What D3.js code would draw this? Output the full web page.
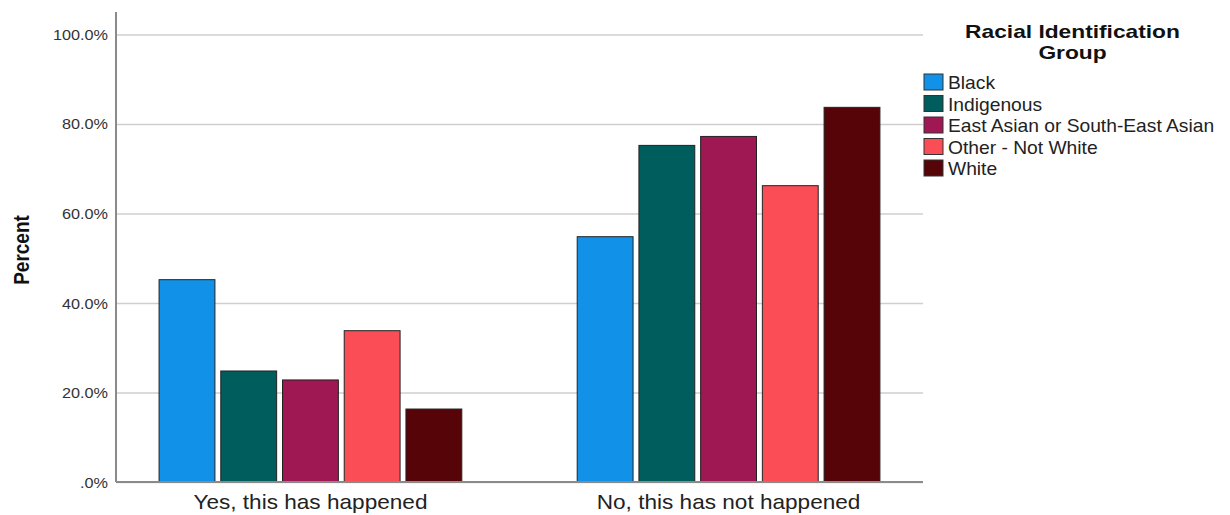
<!DOCTYPE html>
<html><head><meta charset="utf-8">
<script src="https://cdn.jsdelivr.net/npm/d3@7"></script>
<style>
html,body{margin:0;padding:0;background:#fff;}
text{font-family:"Liberation Sans",Arial,sans-serif;}
</style></head>
<body>
<svg id="chart" width="1230" height="515"></svg>
<script>
const categories = ["Yes, this has happened", "No, this has not happened"];
const groups = ["Black", "Indigenous", "East Asian or South-East Asian", "Other - Not White", "White"];
const colors = ["#1192e8", "#005d5d", "#9f1853", "#fa4d56", "#570408"];
const yesValues = [45.2, 24.8, 22.8, 33.8, 16.3];
const noValues  = [54.8, 75.2, 77.2, 66.2, 83.7];
const yTicks = [0, 20, 40, 60, 80, 100];
const legendTitle = ["Racial Identification", "Group"];
const yTitle = "Percent";

(function () {
const seriesByCat = [yesValues, noValues];
const svg = d3.select("#chart");
const mLeft = 116, mRight = 923, mTop = 12, mBottom = 482;

const y = d3.scaleLinear().domain([0, 105]).range([mBottom, mTop]);
const x0 = d3.scaleBand().domain(categories).range([mLeft, mRight]).paddingInner(0.276).paddingOuter(0.103);
const x1 = d3.scaleBand().domain(groups).range([0, x0.bandwidth()]).paddingInner(0.095).paddingOuter(0);
const color = d3.scaleOrdinal().domain(groups).range(colors);

function stretch(sel, sx) {
  sel.each(function () {
    const t = d3.select(this);
    const xx = +t.attr("x") || 0, yy = +t.attr("y") || 0;
    t.attr("x", 0).attr("y", 0).attr("transform", `translate(${xx},${yy}) scale(${sx},1)`);
  });
}

// gridlines + y axis
const yAxis = d3.axisLeft(y).tickValues(yTicks)
  .tickFormat(d => d === 0 ? ".0%" : d.toFixed(1) + "%")
  .tickSize(-(mRight - mLeft)).tickPadding(8);
const gy = svg.append("g").attr("transform", `translate(${mLeft},0)`).call(yAxis);
gy.select(".domain").remove();
gy.selectAll(".tick line").attr("stroke", "#cfcfcf").attr("stroke-width", 1.5);
gy.selectAll(".tick text").attr("fill", "#333").style("font-size", "14px")
  .attr("dy", null).attr("dominant-baseline", "central")
  .attr("x", 0).attr("transform", "translate(-8,0) scale(1.16,1)");

// bars
const gBars = svg.append("g");
categories.forEach((c, ci) => {
  gBars.selectAll(null).data(groups.map((g, gi) => ({ g, v: seriesByCat[ci][gi] })))
    .join("rect")
    .attr("x", d => x0(c) + x1(d.g))
    .attr("y", d => y(d.v))
    .attr("width", x1.bandwidth())
    .attr("height", d => y(0) - y(d.v))
    .attr("fill", d => color(d.g))
    .attr("stroke", "#222").attr("stroke-width", 1);
});

// axis lines
svg.append("line").attr("x1", mLeft).attr("x2", mLeft).attr("y1", mTop).attr("y2", mBottom)
  .attr("stroke", "#8a8a8a").attr("stroke-width", 2);
svg.append("line").attr("x1", mLeft).attr("x2", mRight).attr("y1", mBottom).attr("y2", mBottom)
  .attr("stroke", "#8a8a8a").attr("stroke-width", 2);

// x labels
const xl = svg.append("g").selectAll("text").data(categories).join("text")
  .attr("x", d => x0(d) + x0.bandwidth() / 2).attr("y", 509)
  .attr("text-anchor", "middle").attr("fill", "#222").style("font-size", "20px")
  .text(d => d);
stretch(xl, 1.13);

// y title
svg.append("text").attr("transform", "translate(29,250) scale(1.2,1) rotate(-90)")
  .attr("text-anchor", "middle").style("font-size", "19px").style("font-weight", "bold")
  .attr("fill", "#111").text(yTitle);

// legend
const lt = svg.append("g").selectAll("text").data(legendTitle).join("text")
  .attr("x", 1072.5).attr("y", (d, i) => 38 + i * 21)
  .attr("text-anchor", "middle").style("font-size", "18.5px").style("font-weight", "bold")
  .attr("fill", "#111").text(d => d);
stretch(lt, 1.23);

const li = svg.append("g").selectAll("g").data(groups).join("g")
  .attr("transform", (d, i) => `translate(924,${74 + i * 21.5})`);
li.append("rect").attr("width", 19).attr("height", 16)
  .attr("fill", d => color(d)).attr("stroke", "#333").attr("stroke-width", 1);
const ltx = li.append("text").attr("x", 24).attr("y", 15).style("font-size", "17.5px")
  .attr("fill", "#222").text(d => d);
stretch(ltx, 1.1);
})();
</script>
</body></html>
